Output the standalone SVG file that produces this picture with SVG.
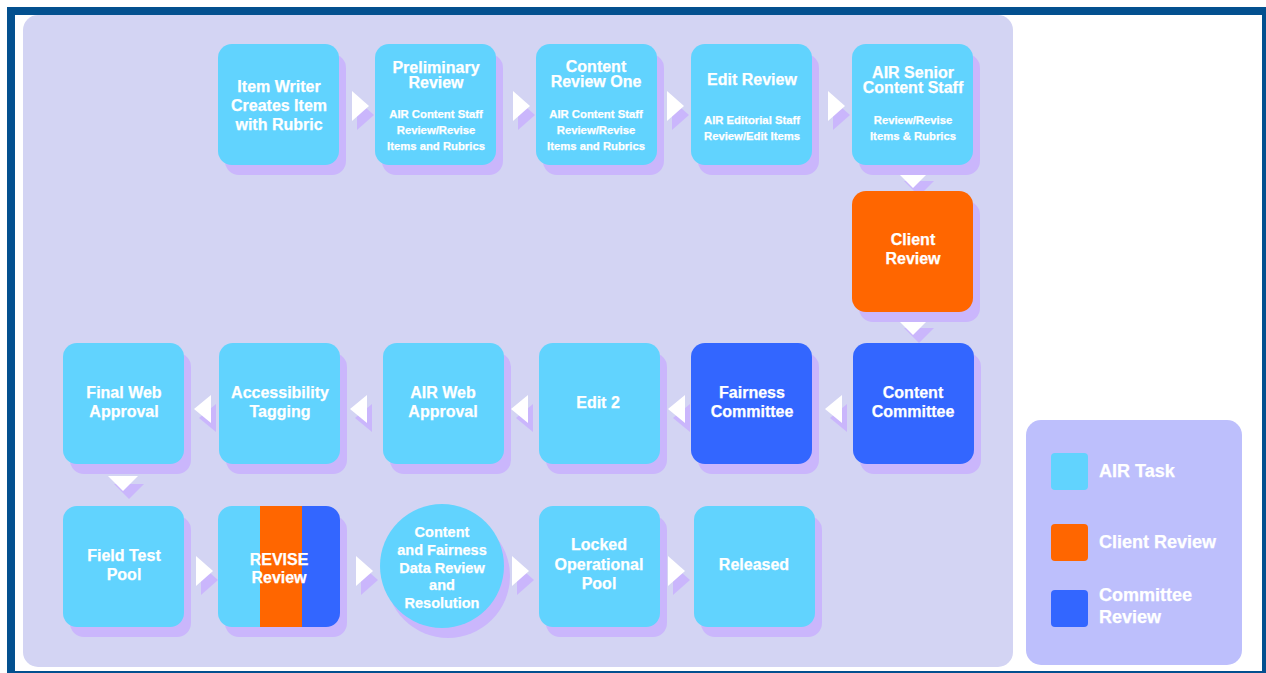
<svg xmlns="http://www.w3.org/2000/svg" width="1266" height="673" viewBox="0 0 1266 673">
<style>
.bg{fill:#ffffff}
.frame{fill:none;stroke:#03508F;stroke-width:8}
.panel{fill:#D3D4F3}
.legend{fill:#BDBFFC}
.sh{fill:#CAB6FC}
.air{fill:#61D3FE}
.cli{fill:#FF6600}
.com{fill:#3366FF}
.aw{fill:#ffffff}
text{font-family:"Liberation Sans",Arial,Helvetica,sans-serif;font-weight:bold;fill:#ffffff;text-anchor:middle;stroke:#ffffff;stroke-width:0.25}
.t{font-size:16px}
.s{font-size:11.3px}
.c{font-size:14.5px}
.lg{font-size:18px;text-anchor:start}
</style>
<defs>
<polygon id="ar" points="0,0 0,30 17,15"/>
<polygon id="al" points="17,0 17,28 0,14"/>
<polygon id="ad" points="0,0 30,0 15,15"/>
<clipPath id="revclip"><rect x="218" y="506" width="122" height="121" rx="14"/></clipPath>
</defs>
<rect class="bg" x="0" y="0" width="1266" height="673"/>
<rect class="frame" x="11" y="11" width="1255" height="664"/>
<rect class="panel" x="23" y="15" width="990" height="652" rx="15"/>

<g id="connectors">
<g transform="translate(352,91)"><use href="#ar" class="sh" x="5" y="9"/><use href="#ar" class="aw"/></g>
<g transform="translate(513,91)"><use href="#ar" class="sh" x="5" y="9"/><use href="#ar" class="aw"/></g>
<g transform="translate(667,91)"><use href="#ar" class="sh" x="5" y="9"/><use href="#ar" class="aw"/></g>
<g transform="translate(828,91)"><use href="#ar" class="sh" x="5" y="9"/><use href="#ar" class="aw"/></g>
<g transform="translate(898,173)"><use href="#ad" class="sh" x="6" y="8"/><use href="#ad" class="aw"/></g>
<g transform="translate(898,320)"><use href="#ad" class="sh" x="6" y="8"/><use href="#ad" class="aw"/></g>
<g transform="translate(825,395)"><use href="#al" class="sh" x="5" y="9"/><use href="#al" class="aw"/></g>
<g transform="translate(668,395)"><use href="#al" class="sh" x="5" y="9"/><use href="#al" class="aw"/></g>
<g transform="translate(511,395)"><use href="#al" class="sh" x="5" y="9"/><use href="#al" class="aw"/></g>
<g transform="translate(350,395)"><use href="#al" class="sh" x="5" y="9"/><use href="#al" class="aw"/></g>
<g transform="translate(194,395)"><use href="#al" class="sh" x="5" y="9"/><use href="#al" class="aw"/></g>
<g transform="translate(108,476)"><use href="#ad" class="sh" x="6" y="8"/><use href="#ad" class="aw"/></g>
<g transform="translate(196,556)"><use href="#ar" class="sh" x="5" y="9"/><use href="#ar" class="aw"/></g>
<g transform="translate(356,556)"><use href="#ar" class="sh" x="5" y="9"/><use href="#ar" class="aw"/></g>
<g transform="translate(512,556)"><use href="#ar" class="sh" x="5" y="9"/><use href="#ar" class="aw"/></g>
<g transform="translate(668,556)"><use href="#ar" class="sh" x="5" y="9"/><use href="#ar" class="aw"/></g>
</g>

<g id="n-item-writer">
<rect class="sh" x="225" y="54" width="121" height="121" rx="14"/>
<rect class="air" x="218" y="44" width="121" height="121" rx="14"/>
<text class="t" x="279" y="92">Item Writer</text>
<text class="t" x="279" y="111">Creates Item</text>
<text class="t" x="279" y="130">with Rubric</text>
</g>
<g id="n-preliminary">
<rect class="sh" x="382" y="54" width="121" height="121" rx="14"/>
<rect class="air" x="375" y="44" width="121" height="121" rx="14"/>
<text class="t" x="436" y="73">Preliminary</text>
<text class="t" x="436" y="88">Review</text>
<text class="s" x="436" y="118">AIR Content Staff</text>
<text class="s" x="436" y="134">Review/Revise</text>
<text class="s" x="436" y="150">Items and Rubrics</text>
</g>
<g id="n-content-review-one">
<rect class="sh" x="543" y="54" width="121" height="121" rx="14"/>
<rect class="air" x="536" y="44" width="121" height="121" rx="14"/>
<text class="t" x="596" y="72">Content</text>
<text class="t" x="596" y="87">Review One</text>
<text class="s" x="596" y="118">AIR Content Staff</text>
<text class="s" x="596" y="134">Review/Revise</text>
<text class="s" x="596" y="150">Items and Rubrics</text>
</g>
<g id="n-edit-review">
<rect class="sh" x="698" y="54" width="121" height="121" rx="14"/>
<rect class="air" x="691" y="44" width="121" height="121" rx="14"/>
<text class="t" x="752" y="85">Edit Review</text>
<text class="s" x="752" y="124">AIR Editorial Staff</text>
<text class="s" x="752" y="140">Review/Edit Items</text>
</g>
<g id="n-air-senior">
<rect class="sh" x="859" y="54" width="121" height="121" rx="14"/>
<rect class="air" x="852" y="44" width="121" height="121" rx="14"/>
<text class="t" x="913" y="78">AIR Senior</text>
<text class="t" x="913" y="93">Content Staff</text>
<text class="s" x="913" y="124">Review/Revise</text>
<text class="s" x="913" y="140">Items &amp; Rubrics</text>
</g>
<g id="n-client-review">
<rect class="sh" x="859" y="201" width="121" height="121" rx="14"/>
<rect class="cli" x="852" y="191" width="121" height="121" rx="14"/>
<text class="t" x="913" y="245">Client</text>
<text class="t" x="913" y="264">Review</text>
</g>

<g id="n-content-committee">
<rect class="sh" x="860" y="353" width="121" height="121" rx="14"/>
<rect class="com" x="853" y="343" width="121" height="121" rx="14"/>
<text class="t" x="913" y="398">Content</text>
<text class="t" x="913" y="417">Committee</text>
</g>
<g id="n-fairness-committee">
<rect class="sh" x="698" y="353" width="121" height="121" rx="14"/>
<rect class="com" x="691" y="343" width="121" height="121" rx="14"/>
<text class="t" x="752" y="398">Fairness</text>
<text class="t" x="752" y="417">Committee</text>
</g>
<g id="n-edit-2">
<rect class="sh" x="546" y="353" width="121" height="121" rx="14"/>
<rect class="air" x="539" y="343" width="121" height="121" rx="14"/>
<text class="t" x="598" y="408">Edit 2</text>
</g>
<g id="n-air-web-approval">
<rect class="sh" x="390" y="353" width="121" height="121" rx="14"/>
<rect class="air" x="383" y="343" width="121" height="121" rx="14"/>
<text class="t" x="443" y="398">AIR Web</text>
<text class="t" x="443" y="417">Approval</text>
</g>
<g id="n-accessibility">
<rect class="sh" x="226" y="353" width="121" height="121" rx="14"/>
<rect class="air" x="219" y="343" width="121" height="121" rx="14"/>
<text class="t" x="280" y="398">Accessibility</text>
<text class="t" x="280" y="417">Tagging</text>
</g>
<g id="n-final-web">
<rect class="sh" x="70" y="353" width="121" height="121" rx="14"/>
<rect class="air" x="63" y="343" width="121" height="121" rx="14"/>
<text class="t" x="124" y="398">Final Web</text>
<text class="t" x="124" y="417">Approval</text>
</g>

<g id="n-field-test">
<rect class="sh" x="70" y="516" width="121" height="121" rx="14"/>
<rect class="air" x="63" y="506" width="121" height="121" rx="14"/>
<text class="t" x="124" y="561">Field Test</text>
<text class="t" x="124" y="580">Pool</text>
</g>
<g id="n-revise">
<rect class="sh" x="225" y="516" width="122" height="121" rx="14"/>
<g clip-path="url(#revclip)">
<rect class="air" x="218" y="506" width="42" height="121"/>
<rect class="cli" x="260" y="506" width="42" height="121"/>
<rect class="com" x="302" y="506" width="38" height="121"/>
</g>
<text class="t" x="279" y="565">REVISE</text>
<text class="t" x="279" y="583">Review</text>
</g>
<g id="n-data-review">
<circle class="sh" cx="448" cy="576" r="62"/>
<circle class="air" cx="442" cy="566" r="62"/>
<text class="c" x="442" y="537">Content</text>
<text class="c" x="442" y="555">and Fairness</text>
<text class="c" x="442" y="573">Data Review</text>
<text class="c" x="442" y="590">and</text>
<text class="c" x="442" y="608">Resolution</text>
</g>
<g id="n-locked">
<rect class="sh" x="546" y="516" width="121" height="121" rx="14"/>
<rect class="air" x="539" y="506" width="121" height="121" rx="14"/>
<text class="t" x="599" y="550">Locked</text>
<text class="t" x="599" y="570">Operational</text>
<text class="t" x="599" y="589">Pool</text>
</g>
<g id="n-released">
<rect class="sh" x="701" y="516" width="121" height="121" rx="14"/>
<rect class="air" x="694" y="506" width="121" height="121" rx="14"/>
<text class="t" x="754" y="570">Released</text>
</g>

<g id="legend">
<rect class="legend" x="1026" y="420" width="216" height="245" rx="15"/>
<rect class="air" x="1051" y="453" width="37" height="37" rx="4"/>
<text class="lg" x="1099" y="477">AIR Task</text>
<rect class="cli" x="1051" y="524" width="37" height="37" rx="4"/>
<text class="lg" x="1099" y="548">Client Review</text>
<rect class="com" x="1051" y="590" width="37" height="37" rx="4"/>
<text class="lg" x="1099" y="601">Committee</text>
<text class="lg" x="1099" y="623">Review</text>
</g>
</svg>
